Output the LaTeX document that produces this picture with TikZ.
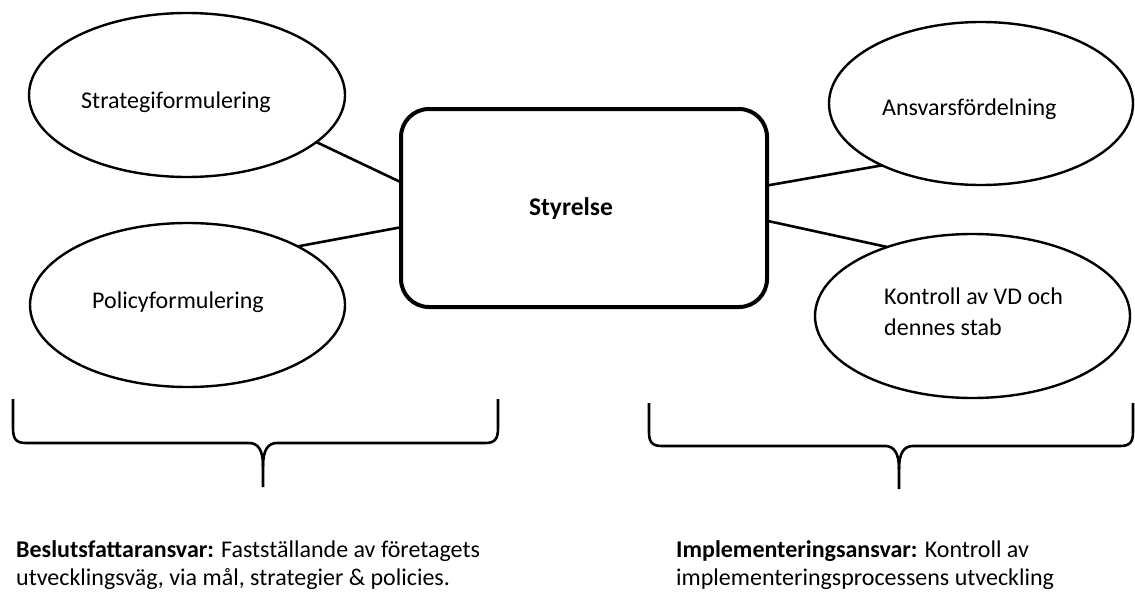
\documentclass[tikz,border=0pt]{standalone}
\usepackage{fontspec}
\setmainfont{Carlito}
\usetikzlibrary{shapes.geometric}

\tikzset{
  oval/.style={draw, ellipse, line width=2.4pt, inner sep=0pt, outer sep=0pt},
  board/.style={draw, rectangle, rounded corners=28pt, line width=4pt,
                minimum width=366pt, minimum height=198pt, inner sep=0pt, outer sep=0pt},
  link/.style={line width=2.6pt},
  brace/.style={line width=2.6pt, line join=round},
  ovaltext/.style={anchor=base west, inner sep=0pt, font=\fontsize{24}{31}\selectfont, align=left},
  notetext/.style={anchor=base west, inner sep=0pt, font=\fontsize{24}{28}\selectfont, align=left}
}

\begin{document}
\begin{tikzpicture}[x=1pt, y=-1pt]
  \useasboundingbox[fill=white] (0,0) rectangle (1135,594);

  % central board
  \node[board] (board) at (584,208) {};
  \node[anchor=base, inner sep=0pt, font=\fontsize{25.5}{30}\selectfont\bfseries] (boardlbl) at (571,215) {Styrelse};

  % surrounding responsibilities
  \node[oval, minimum width=316pt, minimum height=164pt] (strat) at (187,95) {};
  \node[oval, minimum width=315pt, minimum height=164pt] (policy) at (187.5,305) {};
  \node[oval, minimum width=304pt, minimum height=163pt] (ansvar) at (981,103.5) {};
  \node[oval, minimum width=315pt, minimum height=164pt] (kontroll) at (972.5,316) {};

  \node[ovaltext] (stratlbl) at (81,108) {Strategiformulering};
  \node[ovaltext] (policylbl) at (92,308) {Policyformulering};
  \node[ovaltext] (ansvarlbl) at (882,115) {Ansvarsfördelning};
  % multi-line labels are anchored on the baseline of their last line
  \node[ovaltext] (kontrolllbl) at (884,335) {Kontroll av VD och\\dennes stab};

  % connectors
  \draw[link] (strat.-20.6) -- (board.172.5);
  \draw[link] (policy.28.5) -- (board.-174.7);
  \draw[link] (ansvar.212.5) -- (board.7.8);
  \draw[link] (kontroll.141.4) -- (board.-4.7);

  % left brace
  \draw[brace] (13,399) -- (13,428) .. controls (13,439) and (16,443) .. (26,443)
    -- (249,443) .. controls (258,443) and (263,450) .. (263,466) -- (263,487);
  \draw[brace] (263,466) .. controls (263,450) and (268,443) .. (277,443)
    -- (485,443) .. controls (495,443) and (498,439) .. (498,428) -- (498,399);

  % right brace
  \draw[brace] (649,403) -- (649,432) .. controls (649,442) and (652,446) .. (662,446)
    -- (885,446) .. controls (894,446) and (899,453) .. (899,469) -- (899,489);
  \draw[brace] (899,469) .. controls (899,453) and (904,446) .. (913,446)
    -- (1120,446) .. controls (1130,446) and (1133,442) .. (1133,432) -- (1133,403);

  % responsibility notes
  \node[notetext] (leftnote) at (16,585)
    {\textbf{Beslutsfattaransvar:} Fastställande av företagets\\utvecklingsväg, via mål, strategier \& policies.};
  \node[notetext] (rightnote) at (676,585)
    {\textbf{Implementeringsansvar:} Kontroll av\\implementeringsprocessens utveckling};
\end{tikzpicture}
\end{document}
